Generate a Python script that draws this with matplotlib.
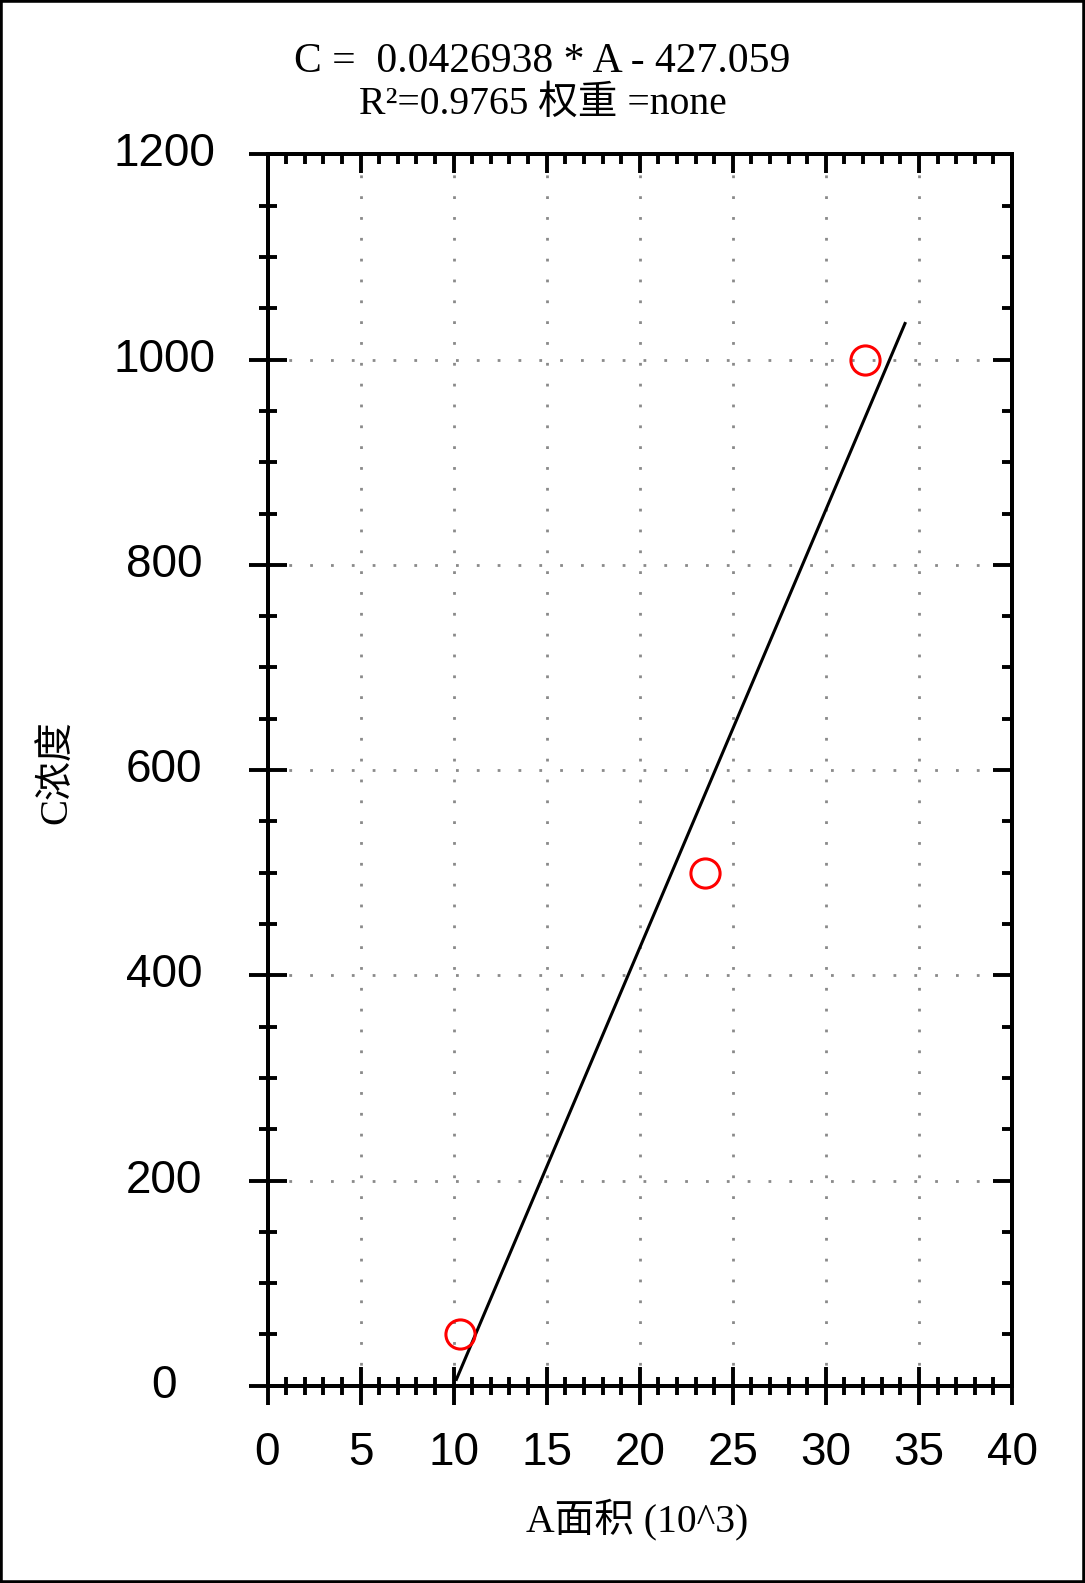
import matplotlib
matplotlib.use("Agg")
import matplotlib.pyplot as plt
import matplotlib.patches as patches
from matplotlib.ticker import MultipleLocator
import numpy as np

# ---- data ----
area_k = [10.35, 23.48, 32.1]          # A面积 (10^3)
conc = [50, 500, 1000]                 # C浓度
slope = 0.0426938
intercept = -427.059
fit_x_range = [10.15, 34.25]           # extent of the drawn fit line (10^3)
x_ticks = [0, 5, 10, 15, 20, 25, 30, 35, 40]
y_ticks = [0, 200, 400, 600, 800, 1000, 1200]
title_line1 = "C =  0.0426938 * A - 427.059"
title_line2 = "R\u00b2=0.9765 权重 =none"

W, H = 1085, 1583
fig = plt.figure(figsize=(W / 100, H / 100), dpi=100)
fig.patch.set_facecolor("white")

left, right, top, bottom = 267.5, 1012, 154.4, 1385.8
ax = fig.add_axes([left / W, 1 - bottom / H, (right - left) / W, (bottom - top) / H])

serif_cjk = ["Liberation Serif", "Noto Sans CJK SC"]

# fit line
fx = np.array(fit_x_range)
fy = slope * fx * 1000 + intercept
ax.plot(fx, fy, color="black", lw=2.2, zorder=3)

# data points
ax.plot(area_k, conc, linestyle="none", marker="o", ms=21, mfc="none",
        mec="red", mew=2.2, zorder=4)

ax.set_xlim(0, 40)
ax.set_ylim(0, 1200)
ax.set_xticks(x_ticks)
ax.set_yticks(y_ticks)
ax.xaxis.set_minor_locator(MultipleLocator(1))
ax.yaxis.set_minor_locator(MultipleLocator(50))

ax.grid(True, which="major", color="#8a8a8a", lw=2.0, linestyle=(0, (1, 6.5)))
ax.set_axisbelow(True)

for s in ax.spines.values():
    s.set_linewidth(2.8)
    s.set_color("black")

ax.tick_params(axis="both", which="major", direction="inout", length=27, width=2.8,
               top=False, right=False)
ax.tick_params(axis="both", which="minor", direction="inout", length=13, width=2.8,
               top=False, right=False)
ax.tick_params(axis="x", which="major", pad=19, labelsize=33)
ax.tick_params(axis="y", which="major", pad=61, labelsize=33)
for lab in ax.get_yticklabels():
    lab.set_horizontalalignment("center")
    lab.set_verticalalignment("center")
for lab in ax.get_xticklabels() + ax.get_yticklabels():
    lab.set_fontfamily("Liberation Sans")

# inward ticks on top and right
axt = ax.twiny()
axt.set_xlim(ax.get_xlim())
axt.set_xticks(x_ticks)
axt.xaxis.set_minor_locator(MultipleLocator(1))
axt.tick_params(axis="x", which="major", direction="in", length=14, width=2.8, labeltop=False)
axt.tick_params(axis="x", which="minor", direction="in", length=7, width=2.8)
axr = ax.twinx()
axr.set_ylim(ax.get_ylim())
axr.set_yticks(y_ticks)
axr.yaxis.set_minor_locator(MultipleLocator(50))
axr.tick_params(axis="y", which="major", direction="in", length=14, width=2.8, labelright=False)
axr.tick_params(axis="y", which="minor", direction="in", length=7, width=2.8)
for a in (axt, axr):
    for s in a.spines.values():
        s.set_linewidth(2.8)

# axis labels
ax.set_ylabel("C浓度", family=serif_cjk, fontsize=28)
ax.yaxis.set_label_coords((57.5 - left) / (right - left), (bottom - 772) / (bottom - top))
ax.yaxis.label.set_verticalalignment("center")
ax.set_xlabel("A面积 (10^3)", family=serif_cjk, fontsize=28.5)
ax.xaxis.set_label_coords((637.4 - left) / (right - left), (bottom - 1519) / (bottom - top))
ax.xaxis.label.set_verticalalignment("center")

# title lines
fig.text(0.5, 1 - 61.5 / H, title_line1, ha="center", va="center", fontsize=30,
         family=serif_cjk)
fig.text(0.5, 1 - 104.5 / H, title_line2, ha="center", va="center", fontsize=28.5,
         family=serif_cjk)

# figure frame
fig.patches.append(patches.Rectangle((0, 0), 1, 1, transform=fig.transFigure, fill=False,
                                     edgecolor="black", lw=4, zorder=10))

fig.savefig("out.png", dpi=100, facecolor="white")
